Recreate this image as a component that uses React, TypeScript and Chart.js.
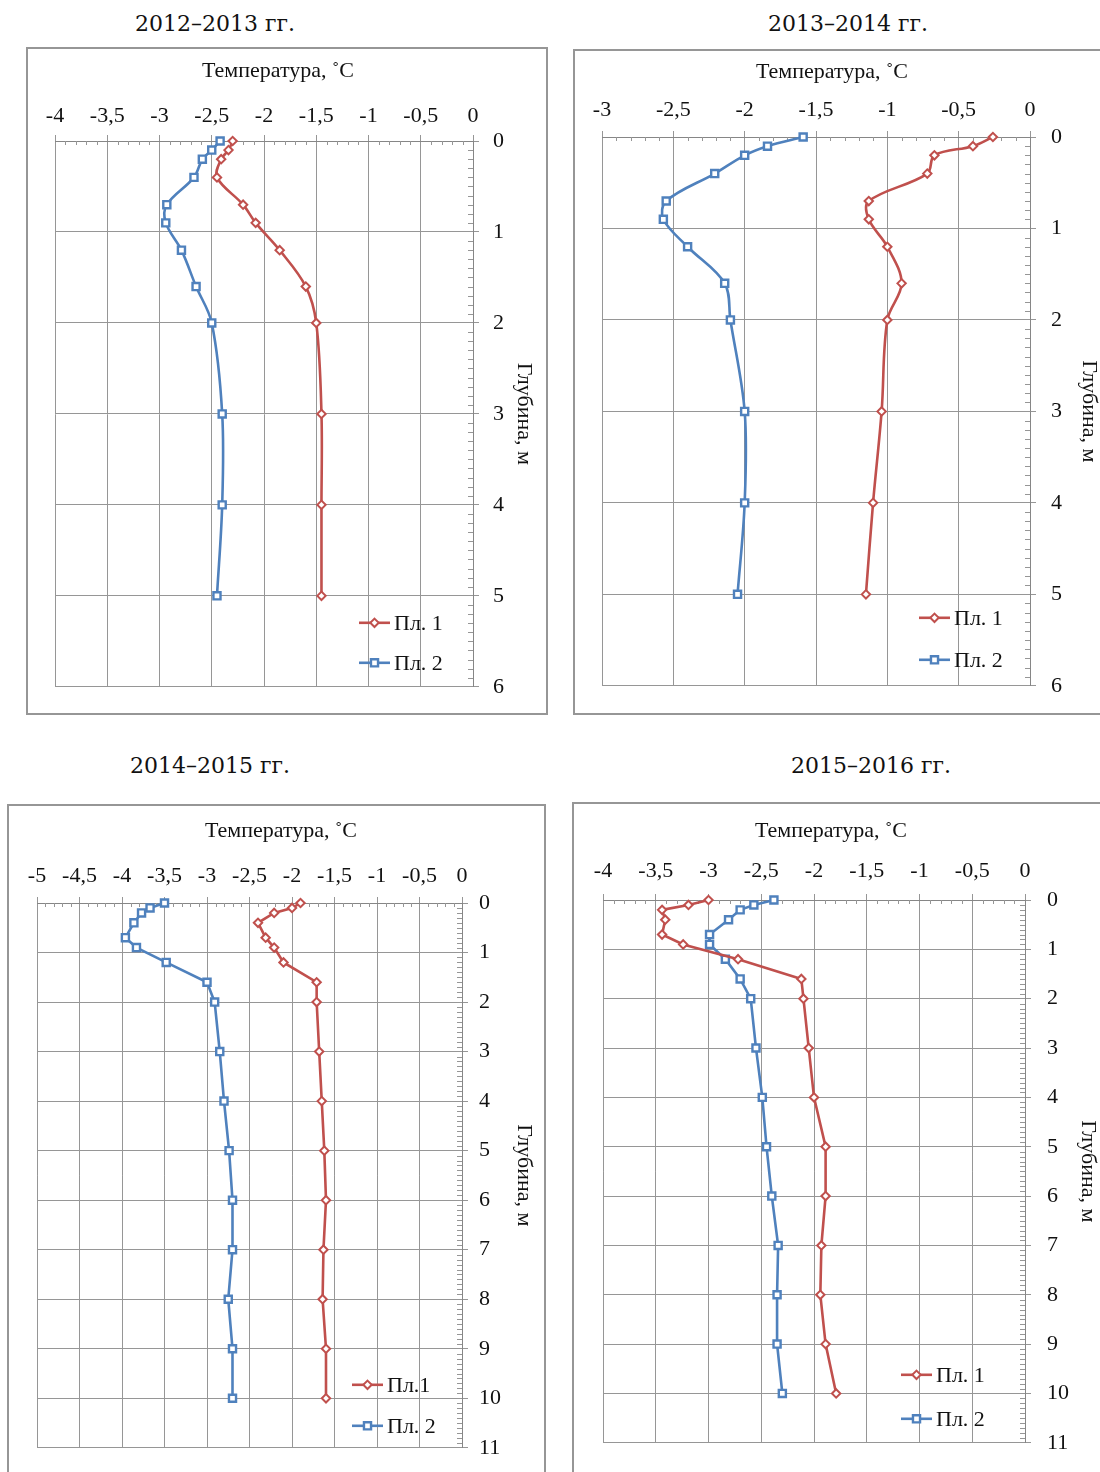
import React, { useEffect, useRef } from "react";
import { Chart, registerables } from "chart.js";

Chart.register(...registerables);

// ---------------- data ----------------
const DEPTH_SHORT = [0, 0.1, 0.2, 0.4, 0.7, 0.9, 1.2, 1.6, 2, 3, 4, 5];
const DEPTH_LONG = [0, 0.1, 0.2, 0.4, 0.7, 0.9, 1.2, 1.6, 2, 3, 4, 5, 6, 7, 8, 9, 10];

const PL1_2012 = [-2.3, -2.34, -2.41, -2.45, -2.2, -2.08, -1.85, -1.6, -1.5, -1.45, -1.45, -1.45];
const PL2_2012 = [-2.42, -2.5, -2.59, -2.67, -2.93, -2.94, -2.79, -2.65, -2.5, -2.4, -2.4, -2.45];

const PL1_2013 = [-0.26, -0.4, -0.67, -0.72, -1.13, -1.13, -1.0, -0.9, -1.0, -1.04, -1.1, -1.15];
const PL2_2013 = [-1.59, -1.84, -2.0, -2.21, -2.55, -2.57, -2.4, -2.14, -2.1, -2.0, -2.0, -2.05];

const PL1_2014 = [-1.9, -2.0, -2.21, -2.4, -2.31, -2.21, -2.1, -1.71, -1.71, -1.68, -1.65, -1.62, -1.6, -1.63, -1.64, -1.6, -1.6];
const PL2_2014 = [-3.5, -3.67, -3.77, -3.86, -3.96, -3.83, -3.48, -3.0, -2.91, -2.85, -2.8, -2.74, -2.7, -2.7, -2.75, -2.7, -2.7];

const PL1_2015 = [-3.0, -3.19, -3.44, -3.41, -3.44, -3.24, -2.72, -2.12, -2.1, -2.05, -2.0, -1.89, -1.89, -1.93, -1.94, -1.89, -1.79];
const PL2_2015 = [-2.38, -2.57, -2.7, -2.81, -2.99, -2.99, -2.84, -2.7, -2.6, -2.55, -2.49, -2.45, -2.4, -2.34, -2.35, -2.35, -2.3];

const PERIODS = ["2012–2013 гг.", "2013–2014 гг.", "2014–2015 гг.", "2015–2016 гг."];
const PL1_LABELS = ["Пл. 1", "Пл. 1", "Пл.1", "Пл. 1"];
const PL2_LABELS = ["Пл. 2", "Пл. 2", "Пл. 2", "Пл. 2"];
const X_AXIS_TITLE = "Температура, ˚С";
const Y_AXIS_TITLE = "Глубина, м";

const TEMP_MIN = [-4, -3, -5, -4];
const TEMP_MAX = [0, 0, 0, 0];
const DEPTH_MAX = [6, 6, 11, 11];
const TEMP_STEP = 0.5;
const DEPTH_STEP = 1;
const MINOR_STEP = 0.1;

const PANEL_DEPTHS = [DEPTH_SHORT, DEPTH_SHORT, DEPTH_LONG, DEPTH_LONG];
const PANEL_PL1 = [PL1_2012, PL1_2013, PL1_2014, PL1_2015];
const PANEL_PL2 = [PL2_2012, PL2_2013, PL2_2014, PL2_2015];

// ---------------- styles / layout ----------------
const RED = "#c0504d";
const BLUE = "#4f81bd";
const GRID = "#969696";
const AXIS = "#868686";
const TEXT = "#111111";
const SERIF = "'Liberation Serif', 'Times New Roman', serif";
const TITLE_FONT = "'DejaVu Serif', serif";
const FS = 22;

type Layout = {
  titleX: number; titleY: number; xTitleX: number; xTitleY: number;
  box: number[]; canvas: number[];
  padL: number; padB: number; scaleH: number; scaleW: number;
  xTickPad: number; yTickPad: number; yTitlePad: number;
  legend: number[]; tension: number;
};

const LAYOUTS: Layout[] = [
  { titleX: 215, titleY: 24, xTitleX: 278, xTitleY: 70, box: [26, 47, 522, 668], canvas: [26, 47, 521, 667],
    padL: 29, padB: 24, scaleH: 94, scaleW: 74, xTickPad: 6, yTickPad: 14, yTitlePad: 10, legend: [-114, -64, -24], tension: 0.35 },
  { titleX: 848, titleY: 24, xTitleX: 832, xTitleY: 71, box: [573, 49, 600, 666], canvas: [573, 49, 527, 665],
    padL: 29, padB: 24, scaleH: 88, scaleW: 70, xTickPad: 8, yTickPad: 15, yTitlePad: -2, legend: [-111, -68, -26], tension: 0.35 },
  { titleX: 210, titleY: 766, xTitleX: 281, xTitleY: 830, box: [7, 804, 539, 700], canvas: [7, 804, 539, 668],
    padL: 30, padB: 16, scaleH: 99, scaleW: 84, xTickPad: 8, yTickPad: 11, yTitlePad: 9, legend: [-110, -63, -22], tension: 0 },
  { titleX: 871, titleY: 766, xTitleX: 831, xTitleY: 830, box: [572, 802, 600, 700], canvas: [572, 802, 528, 670],
    padL: 31, padB: 17, scaleH: 98, scaleW: 75, xTickPad: 10, yTickPad: 16, yTitlePad: -1, legend: [-124, -68, -24], tension: 0 },
];

const fmt = (v: number) => String(Math.round(v * 10) / 10).replace(".", ",");

const minorTicksPlugin = {
  id: "minorTicks",
  beforeDatasetsDraw(chart: any) {
    const { ctx, chartArea } = chart;
    const xs = chart.scales.x;
    const ys = chart.scales.y;
    ctx.save();
    ctx.strokeStyle = GRID;
    ctx.lineWidth = 1;
    ctx.beginPath();
    const nx = Math.round((xs.max - xs.min) / MINOR_STEP);
    const perX = Math.round(TEMP_STEP / MINOR_STEP);
    for (let i = 1; i < nx; i++) {
      if (i % perX === 0) continue;
      const px = Math.round(xs.getPixelForValue(xs.min + i * MINOR_STEP)) + 0.5;
      ctx.moveTo(px, chartArea.top);
      ctx.lineTo(px, chartArea.top + 4);
    }
    const ny = Math.round((ys.max - ys.min) / MINOR_STEP);
    const perY = Math.round(DEPTH_STEP / MINOR_STEP);
    for (let i = 1; i < ny; i++) {
      if (i % perY === 0) continue;
      const py = Math.round(ys.getPixelForValue(ys.min + i * MINOR_STEP)) + 0.5;
      ctx.moveTo(chartArea.right, py);
      ctx.lineTo(chartArea.right - 5, py);
    }
    ctx.stroke();
    ctx.restore();
  },
};

function drawMarker(ctx: CanvasRenderingContext2D, style: string, r: number, x: number, y: number) {
  ctx.beginPath();
  if (style === "rect") {
    const s = Math.SQRT1_2 * r;
    ctx.rect(x - s, y - s, 2 * s, 2 * s);
  } else {
    ctx.moveTo(x, y - r);
    ctx.lineTo(x + r, y);
    ctx.lineTo(x, y + r);
    ctx.lineTo(x - r, y);
    ctx.closePath();
  }
  ctx.fill();
  ctx.stroke();
}

const insideLegendPlugin = {
  id: "insideLegend",
  afterDatasetsDraw(chart: any, _args: any, opts: any) {
    const { ctx, chartArea } = chart;
    const pos: number[] = opts.pos;
    const x0 = chartArea.right + pos[0];
    const len = 31;
    chart.data.datasets.forEach((ds: any, i: number) => {
      const y = chartArea.bottom + pos[1 + i];
      ctx.save();
      ctx.strokeStyle = ds.borderColor;
      ctx.lineWidth = ds.borderWidth;
      ctx.beginPath();
      ctx.moveTo(x0, y);
      ctx.lineTo(x0 + len, y);
      ctx.stroke();
      ctx.fillStyle = ds.pointBackgroundColor;
      ctx.strokeStyle = ds.pointBorderColor;
      ctx.lineWidth = ds.pointBorderWidth;
      drawMarker(ctx, ds.pointStyle, ds.pointRadius, x0 + len / 2, y);
      ctx.fillStyle = TEXT;
      ctx.font = `${FS}px ${SERIF}`;
      ctx.textBaseline = "middle";
      ctx.textAlign = "left";
      ctx.fillText(ds.label, x0 + len + 4, y + 1);
      ctx.restore();
    });
  },
};

function Panel({ idx }: { idx: number }) {
  const ref = useRef<HTMLCanvasElement | null>(null);
  const L = LAYOUTS[idx];
  const [cl, ct, cw, ch] = L.canvas;
  const [bl, bt, bw, bh] = L.box;

  useEffect(() => {
    if (!ref.current) return;
    const depths = PANEL_DEPTHS[idx];
    const toPts = (vals: number[]) => vals.map((v, i) => ({ x: v, y: depths[i] }));
    const tickFont = { family: SERIF, size: FS };
    const chart = new Chart(ref.current, {
      type: "scatter",
      data: {
        datasets: [
          {
            label: PL1_LABELS[idx],
            data: toPts(PANEL_PL1[idx]),
            showLine: true,
            clip: false,
            borderColor: RED,
            borderWidth: 2.6,
            tension: L.tension,
            pointStyle: "rectRot",
            pointRadius: 4.2,
            pointBorderWidth: 2,
            pointBackgroundColor: "#ffffff",
            pointBorderColor: RED,
          } as any,
          {
            label: PL2_LABELS[idx],
            data: toPts(PANEL_PL2[idx]),
            showLine: true,
            clip: false,
            borderColor: BLUE,
            borderWidth: 2.6,
            tension: L.tension,
            pointStyle: "rect",
            pointRadius: 5,
            pointBorderWidth: 2.4,
            pointBackgroundColor: "#ffffff",
            pointBorderColor: BLUE,
          } as any,
        ],
      },
      options: {
        animation: false,
        responsive: false,
        devicePixelRatio: 1,
        layout: { padding: { left: L.padL, right: 0, top: 0, bottom: L.padB } },
        plugins: {
          legend: { display: false },
          tooltip: { enabled: false },
          insideLegend: { pos: L.legend },
        } as any,
        scales: {
          x: {
            type: "linear",
            position: "top",
            min: TEMP_MIN[idx],
            max: TEMP_MAX[idx],
            ticks: {
              stepSize: TEMP_STEP,
              autoSkip: false,
              maxRotation: 0,
              minRotation: 0,
              padding: L.xTickPad,
              color: TEXT,
              font: tickFont,
              callback: (v: any) => fmt(Number(v)),
            },
            grid: { color: GRID, lineWidth: 1, tickLength: 6, tickColor: GRID, drawTicks: true },
            border: { display: true, color: AXIS, width: 1 },
            afterFit: (s: any) => { s.height = L.scaleH; },
          },
          y: {
            type: "linear",
            position: "right",
            reverse: true,
            min: 0,
            max: DEPTH_MAX[idx],
            ticks: {
              stepSize: DEPTH_STEP,
              autoSkip: false,
              padding: L.yTickPad,
              color: TEXT,
              font: tickFont,
              callback: (v: any) => fmt(Number(v)),
            },
            grid: { color: GRID, lineWidth: 1, tickLength: 6, tickColor: GRID, drawTicks: true },
            border: { display: true, color: AXIS, width: 1 },
            title: {
              display: true,
              text: Y_AXIS_TITLE,
              color: TEXT,
              font: { family: SERIF, size: FS, lineHeight: 1.2 },
              padding: { top: L.yTitlePad, bottom: 0 },
            },
            afterFit: (s: any) => { s.width = L.scaleW; },
          },
        } as any,
      },
      plugins: [minorTicksPlugin, insideLegendPlugin] as any,
    });
    return () => chart.destroy();
  }, [idx]);

  return (
    <>
      <div
        style={{
          position: "absolute", left: L.titleX - 160, top: L.titleY - 14, width: 320, height: 28,
          textAlign: "center", font: `22px ${TITLE_FONT}`, lineHeight: "28px", color: TEXT, whiteSpace: "nowrap",
        }}
      >
        {PERIODS[idx]}
      </div>
      <canvas
        ref={ref}
        width={cw}
        height={ch}
        style={{ position: "absolute", left: cl, top: ct, width: cw, height: ch, display: "block" }}
      />
      <div
        style={{
          position: "absolute", left: L.xTitleX - 160, top: L.xTitleY - 14, width: 320, height: 28,
          textAlign: "center", font: `${FS}px ${SERIF}`, lineHeight: "28px", color: TEXT, whiteSpace: "nowrap",
        }}
      >
        {X_AXIS_TITLE}
      </div>
      <div
        style={{
          position: "absolute", left: bl, top: bt, width: bw, height: bh, boxSizing: "border-box",
          border: "2px solid #969696", pointerEvents: "none",
        }}
      />
    </>
  );
}

export default function App() {
  return (
    <div
      style={{
        position: "absolute", left: 0, top: 0, width: 1100, height: 1472, overflow: "hidden", background: "#ffffff",
      }}
    >
      {[0, 1, 2, 3].map((i) => (
        <Panel key={i} idx={i} />
      ))}
    </div>
  );
}
